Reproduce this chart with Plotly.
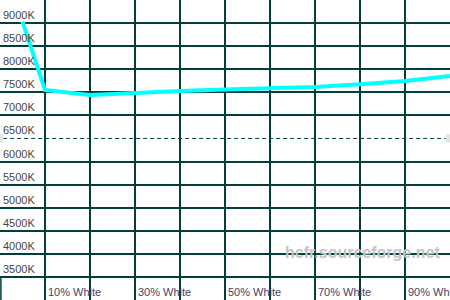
import plotly.graph_objects as go

# Data
white_pct = [5, 10, 20, 30, 40, 50, 60, 70, 80, 90, 100]
color_temp = [9030, 7550, 7440, 7490, 7528, 7560, 7590, 7615, 7675, 7745, 7855]
y_ticks = [9000, 8500, 8000, 7500, 7000, 6500, 6000, 5500, 5000, 4500, 4000, 3500]
x_label_pos = [10, 30, 50, 70, 90]
x_labels = ["10% White", "30% White", "50% White", "70% White", "90% White"]
reference_temp = 6500

grid_color = "#00403C"
font_family = "Liberation Sans, Arial, sans-serif"

fig = go.Figure()
fig.add_trace(go.Scatter(
    x=white_pct, y=color_temp, mode="lines",
    line=dict(color="#00FFFF", width=4),
    hoverinfo="skip", showlegend=False,
))

annotations = []
for v in y_ticks:
    annotations.append(dict(
        x=0, xref="paper", y=v, yref="y", text=f"{v}K", showarrow=False,
        xanchor="left", yanchor="bottom", yshift=0, xshift=1,
        font=dict(family=font_family, size=11, color="#4a4440"),
    ))
for p, t in zip(x_label_pos, x_labels):
    annotations.append(dict(
        x=p, xref="x", y=0, yref="paper", text=t, showarrow=False,
        xanchor="left", yanchor="bottom", xshift=1, yshift=0,
        font=dict(family=font_family, size=11, color="#4a4060"),
    ))
annotations.append(dict(
    x=0.805, xref="paper", y=0.16, yref="paper", text="<b>hcfr.sourceforge.net</b>",
    showarrow=False, xanchor="center", yanchor="middle",
    font=dict(family=font_family, size=16, color="#C4C4C4"),
))

shapes = [
    dict(type="line", xref="paper", x0=0.007, x1=0.99, yref="y",
         y0=reference_temp, y1=reference_temp,
         line=dict(color=grid_color, width=1, dash="4px,3px"), layer="below"),
    dict(type="rect", xref="paper", x0=0, x1=0.007, yref="y",
         y0=reference_temp - 90, y1=reference_temp + 90,
         fillcolor="#E4E4E4", line=dict(width=0), layer="below"),
    dict(type="rect", xref="paper", x0=0.991, x1=1, yref="y",
         y0=reference_temp - 90, y1=reference_temp + 90,
         fillcolor="#E4E4E4", line=dict(width=0), layer="below"),
    dict(type="line", xref="x", x0=0.2, x1=0.2, yref="y", y0=3000, y1=3500,
         line=dict(color=grid_color, width=1.5), layer="below"),
]

fig.update_layout(
    width=450, height=300,
    margin=dict(l=0, r=0, t=0, b=0),
    paper_bgcolor="white", plot_bgcolor="white",
    xaxis=dict(range=[0, 100], tickvals=[10, 20, 30, 40, 50, 60, 70, 80, 90],
               showticklabels=False, showgrid=True, gridcolor=grid_color,
               gridwidth=1.5, zeroline=False, showline=False, fixedrange=True),
    yaxis=dict(range=[3000, 9500], tickvals=[v for v in y_ticks if v != reference_temp],
               showticklabels=False, showgrid=True, gridcolor=grid_color,
               gridwidth=1.5, zeroline=False, showline=False, fixedrange=True),
    annotations=annotations,
    shapes=shapes,
)

fig.write_html("out.html", config={"displayModeBar": False})
